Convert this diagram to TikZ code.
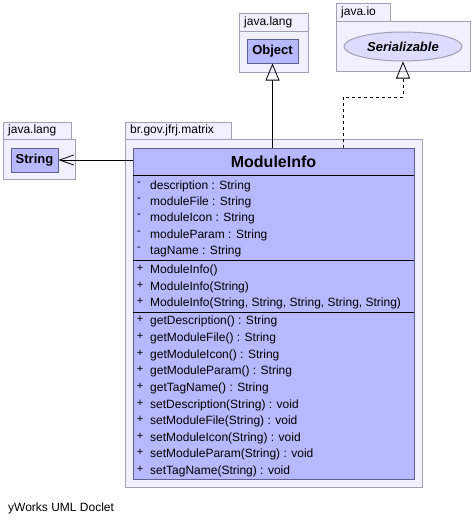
\documentclass[tikz,border=0pt]{standalone}
\usepackage{fontspec}
\setmainfont{Liberation Sans}
\usetikzlibrary{arrows.meta,shapes.geometric}
\definecolor{pkgfill}{RGB}{240,240,255}
\definecolor{pkgline}{RGB}{160,160,180}
\definecolor{clsfill}{RGB}{184,184,255}
\definecolor{clsline}{RGB}{96,96,150}
\definecolor{intfill}{RGB}{220,220,255}
\tikzset{
  pkg/.style={fill=pkgfill,draw=pkgline,line width=1pt},
  cls/.style={fill=clsfill,draw=clsline,line width=1pt,inner sep=0pt},
  pkglabel/.style={anchor=west,inner sep=0pt,font=\fontsize{12}{14}\selectfont},
  rowtxt/.style={anchor=west,inner sep=0pt,font=\fontsize{12}{14}\selectfont},
  vis/.style={anchor=center,inner sep=0pt,font=\fontsize{11}{13}\selectfont},
  sepline/.style={draw=black,line width=0.8pt},
  gen/.style={-{Triangle[open,length=17pt,width=14pt]},line width=0.8pt,black},
  dep/.style={-{Straight Barb[length=14pt,width=10pt]},line width=0.8pt,black}
}
\begin{document}
\begin{tikzpicture}[x=1pt,y=-1pt]
\useasboundingbox[fill=white] (0,0) rectangle (473,525);
% packages
\filldraw[pkg] (239,13) rectangle (308,31);
\filldraw[pkg] (239,31) rectangle (308,72);
\node[pkglabel] (pl1) at (244,22) {java.lang};
\filldraw[pkg] (336,3) rectangle (390,21);
\filldraw[pkg] (336,21) rectangle (470,71);
\node[pkglabel] (pl2) at (341,12) {java.io};
\filldraw[pkg] (3,122) rectangle (71,139);
\filldraw[pkg] (3,139) rectangle (75,179);
\node[pkglabel] (pl3) at (8,130.5) {java.lang};
\filldraw[pkg] (125,122) rectangle (231,139);
\filldraw[pkg] (125,139) rectangle (422,487);
\node[pkglabel] (pl4) at (130,130.5) {br.gov.jfrj.matrix};
% classes
\node[cls,minimum width=51pt,minimum height=24pt,font=\fontsize{13}{15}\selectfont\bfseries] (obj) at (272.5,51) {Object};
\node[cls,minimum width=47pt,minimum height=24pt,font=\fontsize{13}{15}\selectfont\bfseries] (str) at (34.5,160) {String};
\node[ellipse,fill=intfill,draw=pkgline,line width=1pt,minimum width=118pt,minimum height=29pt,inner sep=0pt,font=\fontsize{13}{15}\selectfont\bfseries\itshape] (ser) at (403,46.5) {Serializable};
\node[cls,minimum width=281pt,minimum height=331pt] (mi) at (273.5,313.5) {};
\node[font=\fontsize{16}{18}\selectfont\bfseries,inner sep=0pt] (title) at (273.5,162) {ModuleInfo};
\draw[sepline] (133,175.5) -- (414,175.5);
\draw[sepline] (133,260.5) -- (414,260.5);
\draw[sepline] (133,312) -- (414,312);
\foreach \y/\t [count=\i] in {186/description : String,202/moduleFile : String,218/moduleIcon : String,235/moduleParam : String,251/tagName : String}{
  \node[vis] (av\i) at (139,\y-2) {-};
  \node[rowtxt] (a\i) at (150,\y) {\t};
}
\foreach \y/\t [count=\i] in {270/ModuleInfo(),287/ModuleInfo(String),303/{ModuleInfo(String, String, String, String, String)}}{
  \node[vis] (cv\i) at (140,\y-2) {+};
  \node[rowtxt] (c\i) at (150,\y) {\t};
}
\foreach \y/\t [count=\i] in {321/getDescription() : String,338/getModuleFile() : String,355/getModuleIcon() : String,371/getModuleParam() : String,388/getTagName() : String,405/setDescription(String) : void,421/setModuleFile(String) : void,438/setModuleIcon(String) : void,454/setModuleParam(String) : void,471/setTagName(String) : void}{
  \node[vis] (mv\i) at (140,\y-2) {+};
  \node[rowtxt] (m\i) at (150,\y) {\t};
}
% connectors
\draw[gen] (obj.south |- mi.north) -- (obj.south);
\coordinate (d1) at (343,148);
\coordinate (d2) at (343,97);
\draw[gen,dashed] (d1) -- (d2) -| (ser.south);
\draw[dep] (mi.west |- str.east) -- (str.east);
\node[anchor=west,inner sep=0pt,font=\fontsize{12}{14}\selectfont] (foot) at (8,508) {yWorks UML Doclet};
\end{tikzpicture}
\end{document}
